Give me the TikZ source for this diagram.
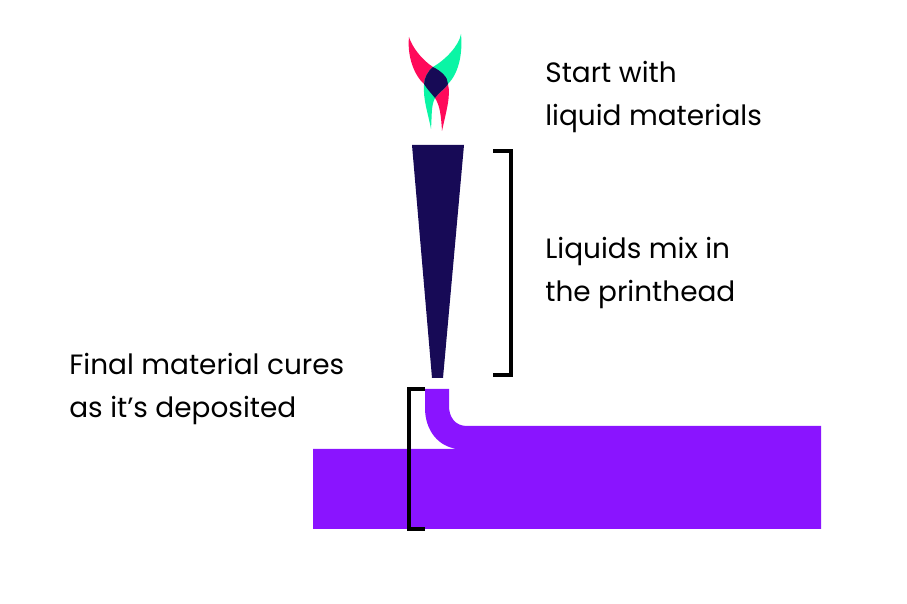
\documentclass[tikz,border=0pt]{standalone}
\usepackage{fontspec}
\setmainfont{Poppins}
\definecolor{nozzleblue}{HTML}{170A56}
\definecolor{inkpurple}{HTML}{8A14FF}
\definecolor{inkred}{HTML}{FF0A5A}
\definecolor{inkgreen}{HTML}{0AF5A5}
\tikzset{
  caption/.style={anchor=west,align=left,inner sep=0pt,font=\fontsize{15.9}{25}\selectfont},
  bracket/.style={draw=black,line width=2.1pt,line cap=butt,line join=miter}
}
\newcommand{\redpath}{(409,37) .. controls (412,47) and (422,60) .. (433,67) .. controls (441,71) and (448,77) .. (448,84) .. controls (451,96) and (446,112) .. (442,131) .. controls (441,115) and (440,106) .. (435,98) .. controls (431,93) and (427,89) .. (424,84) .. controls (414,75) and (407,56) .. (409,37) -- cycle}
\newcommand{\greenpath}{(461,34) .. controls (459,46) and (445,60) .. (433,67) .. controls (428,71) and (424,78) .. (424,85) .. controls (423,100) and (428,113) .. (431,129) .. controls (432,115) and (431,106) .. (435,98) .. controls (439,92) and (445,89) .. (448,84) .. controls (458,74) and (463,55) .. (461,34) -- cycle}
\begin{document}
\begin{tikzpicture}[x=0.02cm,y=-0.02cm]

\useasboundingbox (0,0) rectangle (907,604);

% logo
\fill[inkred] \redpath ;
\fill[inkgreen] \greenpath ;
\begin{scope}
\clip \redpath ;
\fill[nozzleblue] \greenpath ;
\end{scope}

% printhead
\fill[nozzleblue] (412,145) -- (464,145) -- (443,378) -- (432,378) -- cycle ;

% printed material
\fill[inkpurple] (425,389) -- (449,389) -- (449,406) .. controls (449,417) and (455,426) .. (467,426) -- (821,426) -- (821,529) -- (313,529) -- (313,449) -- (458,449) .. controls (438,447) and (425,430) .. (425,408) -- cycle ;

% brackets
\draw[bracket] (493,151) -- (511,151) -- (511,375) -- (493,375) ;
\draw[bracket] (425,389) -- (409,389) -- (409,529) -- (425,529) ;

\node[caption] (start_txt) at (545,97) {Start with\\liquid materials};
\node[caption] (mix_txt) at (545,273) {Liquids mix in\\the printhead};
\node[caption] (cure_txt) at (69,389) {Final material cures\\as it’s deposited};

\end{tikzpicture}
\end{document}
